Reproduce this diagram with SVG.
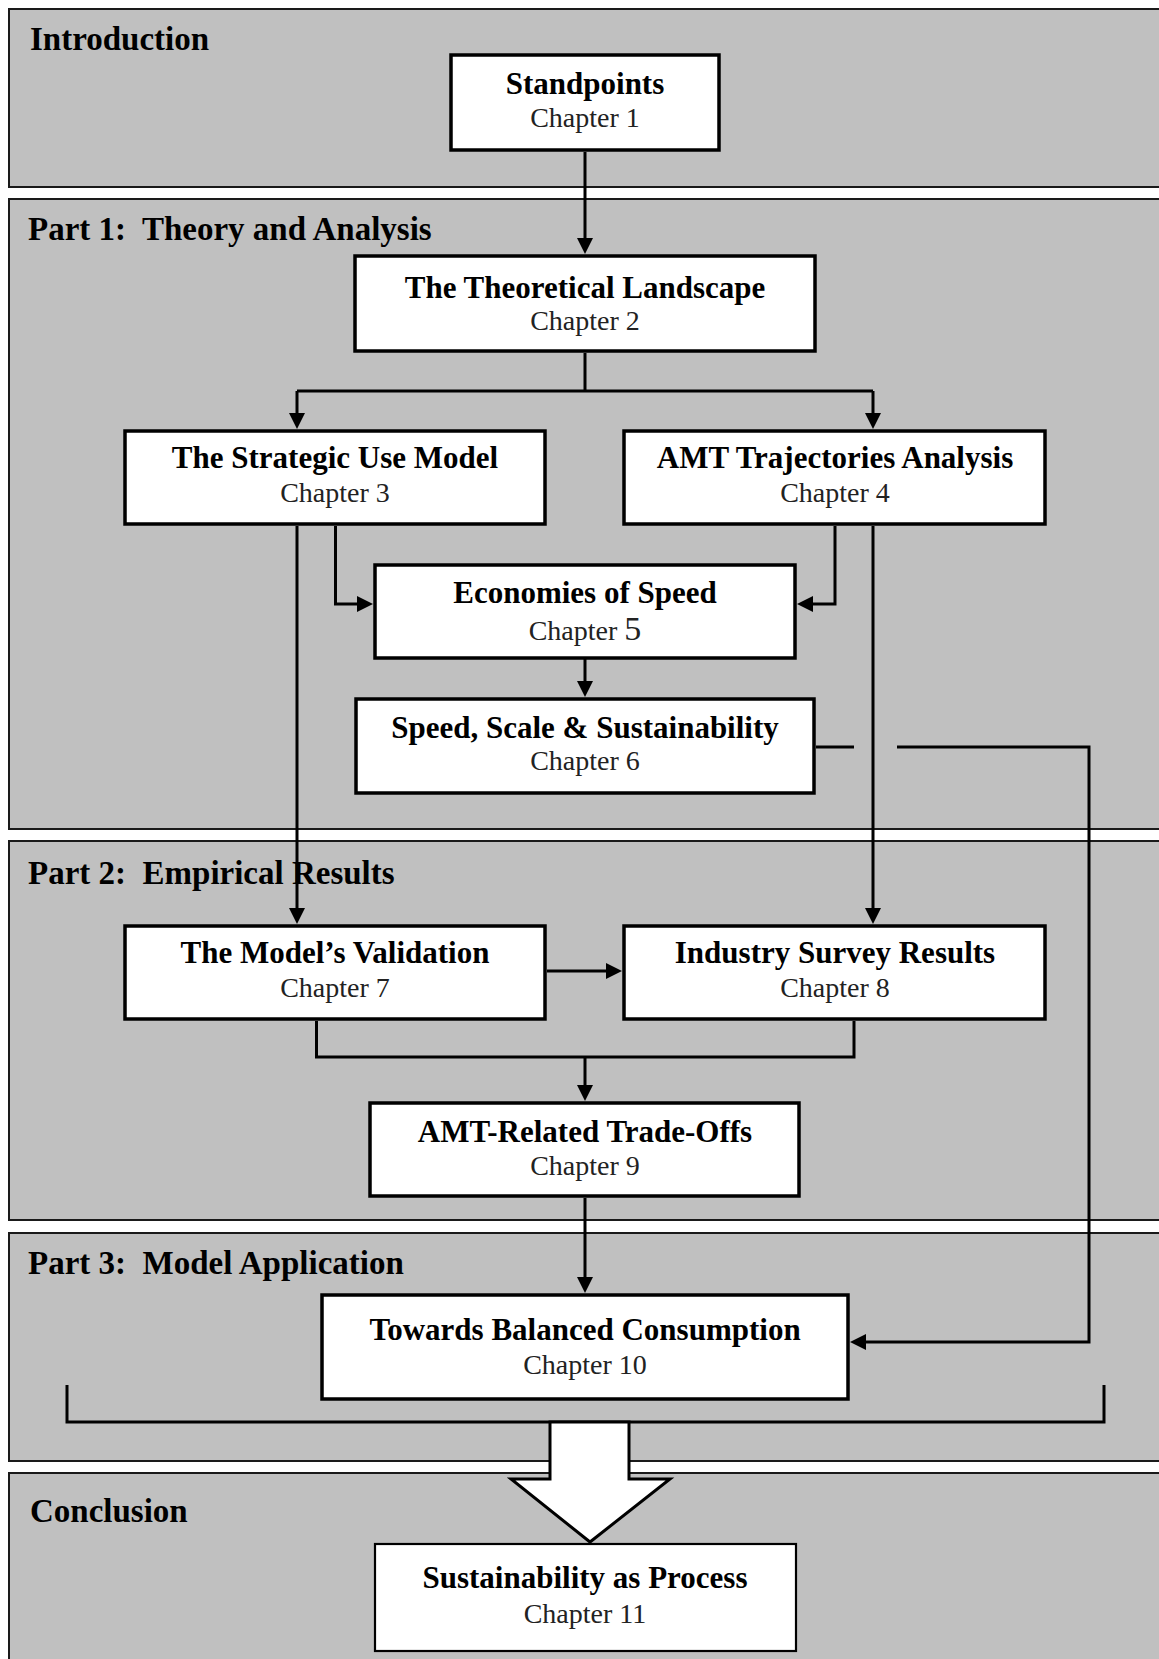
<svg xmlns="http://www.w3.org/2000/svg" width="1159" height="1659" viewBox="0 0 1159 1659">
<style>
.panel{fill:#c0c0c0;stroke:#1a1a1a;stroke-width:2}
.box{fill:#fff;stroke:#000;stroke-width:3.5}
.box2{fill:#fff;stroke:#000;stroke-width:2.2}
.sec{font-family:"Liberation Serif",serif;font-weight:bold;font-size:33px;fill:#000}
.t{font-family:"Liberation Serif",serif;font-weight:bold;font-size:31px;text-anchor:middle;fill:#000}
.c{font-family:"Liberation Serif",serif;font-size:28px;text-anchor:middle;fill:#222}
.ln{fill:none;stroke:#000;stroke-width:3}
</style>
<defs>
<marker id="ah" viewBox="0 0 16 16" refX="2" refY="8" markerWidth="16" markerHeight="16" markerUnits="userSpaceOnUse" orient="auto"><path d="M0,0 L16,8 L0,16 z" fill="#000"/></marker>
</defs>
<g id="panels">
<rect class="panel" x="9" y="9" width="1170" height="178"/>
<rect class="panel" x="9" y="199" width="1170" height="630"/>
<rect class="panel" x="9" y="841" width="1170" height="379"/>
<rect class="panel" x="9" y="1233" width="1170" height="228"/>
<rect class="panel" x="9" y="1473" width="1170" height="210"/>
<text class="sec" x="30" y="50" xml:space="preserve">Introduction</text>
<text class="sec" x="28" y="240" xml:space="preserve">Part 1:  Theory and Analysis</text>
<text class="sec" x="28" y="884" xml:space="preserve">Part 2:  Empirical Results</text>
<text class="sec" x="28" y="1274" xml:space="preserve">Part 3:  Model Application</text>
<text class="sec" x="30" y="1522" xml:space="preserve">Conclusion</text>
</g>
<g id="connectors">
<path class="ln" d="M585,152 V240" marker-end="url(#ah)"/>
<path class="ln" d="M585,353 V391 M297,391 H873"/>
<path class="ln" d="M297,391 V415" marker-end="url(#ah)"/>
<path class="ln" d="M873,391 V415" marker-end="url(#ah)"/>
<path class="ln" d="M297,526 V910" marker-end="url(#ah)"/>
<path class="ln" d="M335.5,526 V604 H359" marker-end="url(#ah)"/>
<path class="ln" d="M835,526 V604 H811" marker-end="url(#ah)"/>
<path class="ln" d="M873,526 V910" marker-end="url(#ah)"/>
<path class="ln" d="M585,658 V683" marker-end="url(#ah)"/>
<path class="ln" d="M816,747 H854"/>
<path class="ln" d="M897,747 H1089 V1342 H864" marker-end="url(#ah)"/>
<path class="ln" d="M547,971 H608" marker-end="url(#ah)"/>
<path class="ln" d="M316.5,1021 V1057 H854 V1021"/>
<path class="ln" d="M585,1057 V1087" marker-end="url(#ah)"/>
<path class="ln" d="M585,1198 V1279" marker-end="url(#ah)"/>
<path class="ln" d="M67,1385 V1422 H1104 V1385"/>
<path d="M550,1422 H629 V1479 H670 L590,1542 L511,1479 H550 Z" fill="#fff" stroke="#000" stroke-width="3" stroke-linejoin="miter"/>
</g>
<g id="n1"><rect class="box" x="451" y="55" width="268" height="95"/><text class="t" x="585" y="94">Standpoints</text><text class="c" x="585" y="127">Chapter 1</text></g>
<g id="n2"><rect class="box" x="355" y="256" width="460" height="95"/><text class="t" x="585" y="298">The Theoretical Landscape</text><text class="c" x="585" y="330">Chapter 2</text></g>
<g id="n3"><rect class="box" x="125" y="431" width="420" height="93"/><text class="t" x="335" y="468">The Strategic Use Model</text><text class="c" x="335" y="502">Chapter 3</text></g>
<g id="n4"><rect class="box" x="624" y="431" width="421" height="93"/><text class="t" x="835" y="468">AMT Trajectories Analysis</text><text class="c" x="835" y="502">Chapter 4</text></g>
<g id="n5"><rect class="box" x="375" y="565" width="420" height="93"/><text class="t" x="585" y="603">Economies of Speed</text><text class="c" x="585" y="640">Chapter <tspan font-size="34">5</tspan></text></g>
<g id="n6"><rect class="box" x="356" y="699" width="458" height="94"/><text class="t" x="585" y="738">Speed, Scale &amp; Sustainability</text><text class="c" x="585" y="770">Chapter 6</text></g>
<g id="n7"><rect class="box" x="125" y="926" width="420" height="93"/><text class="t" x="335" y="963">The Model’s Validation</text><text class="c" x="335" y="997">Chapter 7</text></g>
<g id="n8"><rect class="box" x="624" y="926" width="421" height="93"/><text class="t" x="835" y="963">Industry Survey Results</text><text class="c" x="835" y="997">Chapter 8</text></g>
<g id="n9"><rect class="box" x="370" y="1103" width="429" height="93"/><text class="t" x="585" y="1142">AMT-Related Trade-Offs</text><text class="c" x="585" y="1175">Chapter 9</text></g>
<g id="n10"><rect class="box" x="322" y="1295" width="526" height="104"/><text class="t" x="585" y="1340">Towards Balanced Consumption</text><text class="c" x="585" y="1374">Chapter 10</text></g>
<g id="n11"><rect class="box2" x="375" y="1544" width="421" height="107"/><text class="t" x="585" y="1588">Sustainability as Process</text><text class="c" x="585" y="1623">Chapter 11</text></g>
</svg>
